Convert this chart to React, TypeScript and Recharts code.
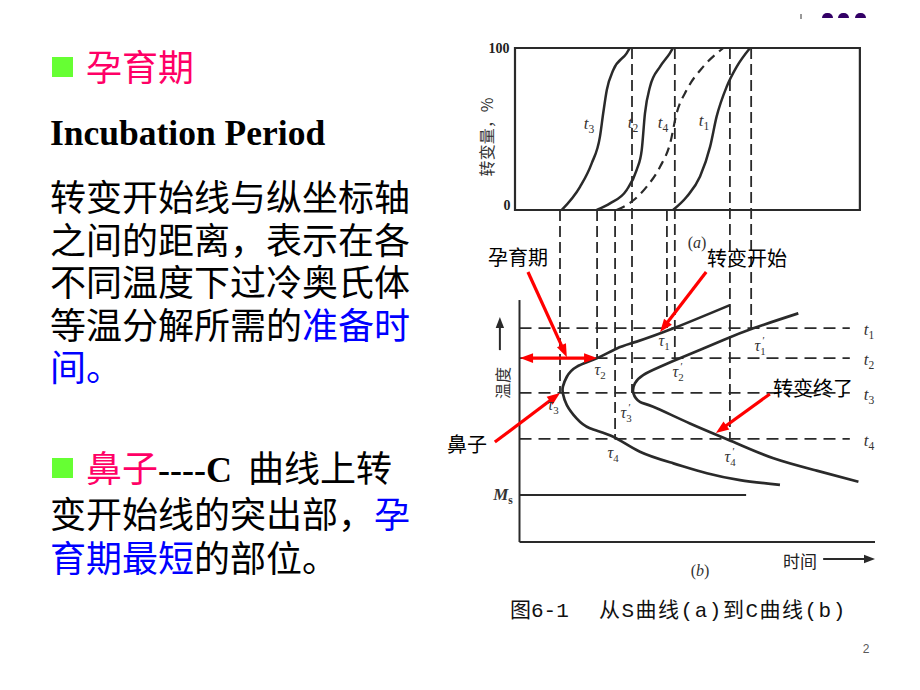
import React from "react";
import { ComposedChart, XAxis, YAxis, Line, ReferenceLine, ReferenceArea } from "recharts";

// schematic axes: time (arbitrary), transformed % in panel (a), temperature (arbitrary) in panel (b)
const TIME_DOMAIN = [-20, 105];
const FRAC_DOMAIN = [-228.4, 111.1];
const TEMP_DOMAIN = [-15.7, 211.6];

// S curves, [time, % transformed]
const S_T3 = [[13.0, 0], [18.1, 14.4], [21.3, 28.8], [23.6, 45.3], [24.5, 59.7], [25.5, 74.1], [27.3, 86.4], [31.0, 96.7], [31.9, 100]];
const S_T2 = [[22.7, 0], [26.4, 4.1], [31.0, 12.3], [33.8, 24.7], [35.2, 37.0], [36.1, 59.7], [37.5, 76.1], [40.3, 88.5], [43.0, 96.7], [43.9, 100]];
const S_T4 = [[28.2, 0], [32.4, 5.1], [36.6, 14.4], [40.3, 26.7], [43.1, 41.2], [44.9, 59.7], [47.7, 74.1], [52.3, 88.5], [57.9, 100]];
const S_T1 = [[43.9, 0], [47.7, 8.2], [51.4, 20.6], [54.2, 39.1], [56.0, 57.6], [58.8, 76.1], [61.6, 88.5], [65.3, 100]];

// C curves, [time, temperature]
const C_START = [[59.7, 97.9], [44.0, 88.3], [33.8, 82.8], [28.3, 80.0], [22.7, 75.9], [17.1, 72.4], [14.4, 68.3], [13.3, 64.2], [13.3, 61.4], [14.4, 56.6], [17.1, 51.1], [20.8, 47.0], [27.3, 43.5], [34.7, 37.3], [44.0, 32.5], [53.3, 28.4], [62.5, 25.6], [73.6, 23.6]];
const C_END = [[78.7, 94.5], [66.2, 88.3], [57.9, 83.5], [52.3, 80.0], [46.8, 76.6], [40.3, 72.4], [35.6, 69.0], [33.3, 65.6], [32.9, 61.4], [34.7, 57.9], [38.4, 55.9], [48.6, 49.0], [60.6, 41.4], [71.8, 34.6], [83.8, 29.5], [95.4, 24.9]];

// isothermal levels t1..t4, start / finish times at each level
const T_LEVELS = [88.4, 76.0, 61.6, 42.6];
const START_TIMES = [42.2, 22.8, 12.5, 27.8];
const END_TIMES = [65.6, 44.4, 32.5, 59.7];
const MS_TEMP = 19.4;

// annotation arrows, [time, temperature]
const RED_ARROWS = [
  { from: [3.6, 111.6], to: [14.4, 76.4] },
  { from: [53.1, 111.6], to: [40.3, 86.8] },
  { from: [70.8, 61.2], to: [55.8, 45.0] },
  { from: [-5.6, 41.3], to: [12.5, 61.6] },
  { from: [1.4, 76.0], to: [22.8, 76.0], both: true },
];
const AXIS_ARROWS = [
  { from: [-4.2, 79.3], to: [-4.2, 93.0] },
  { from: [85.6, -7.0], to: [100, -7.0] },
];

// slide text, one entry per line
const PARA_1 = ["转变开始线与纵坐标轴", "之间的距离，表示在各", "不同温度下过冷奥氏体"];

const INK = "#2a2a2a";
const CJK = '"Noto Sans CJK SC", sans-serif';
// Latin face first so the line box keeps compact metrics, CJK glyphs fall back to Noto
const BODY = '"Liberation Sans", "Noto Sans CJK SC", sans-serif';
const SERIF = '"Liberation Serif", "Noto Sans CJK SC", serif';

const pts = (arr: number[][]) => arr.map(([t, v]) => ({ t, v }));
const fracToTemp = (f: number) =>
  TEMP_DOMAIN[0] + ((f - FRAC_DOMAIN[0]) * (TEMP_DOMAIN[1] - TEMP_DOMAIN[0])) / (FRAC_DOMAIN[1] - FRAC_DOMAIN[0]);

const arrowShape = (color: string, w: number, head: number, both = false) => (p: any) => {
  const { x1, y1, x2, y2 } = p;
  const a = Math.atan2(y2 - y1, x2 - x1);
  const tip = (x: number, y: number, ang: number) => {
    const bx = x - head * Math.cos(ang);
    const by = y - head * Math.sin(ang);
    const hw = head * 0.38;
    return `${x},${y} ${bx + hw * Math.sin(ang)},${by - hw * Math.cos(ang)} ${bx - hw * Math.sin(ang)},${by + hw * Math.cos(ang)}`;
  };
  const cut = head * 0.7;
  return (
    <g>
      <line
        x1={both ? x1 + cut * Math.cos(a) : x1}
        y1={both ? y1 + cut * Math.sin(a) : y1}
        x2={x2 - cut * Math.cos(a)}
        y2={y2 - cut * Math.sin(a)}
        stroke={color}
        strokeWidth={w}
      />
      <polygon points={tip(x2, y2, a)} fill={color} />
      {both && <polygon points={tip(x1, y1, a + Math.PI)} fill={color} />}
    </g>
  );
};

const Txt = ({ x, y, size = 16, rot = 0, style = {}, children }: any) => (
  <div
    style={{
      position: "absolute",
      left: x,
      top: y,
      transform: `translate(-50%, -50%)${rot ? ` rotate(${rot}deg)` : ""}`,
      fontSize: size,
      lineHeight: 1,
      whiteSpace: "nowrap",
      fontFamily: CJK,
      color: "#000",
      ...style,
    }}
  >
    {children}
  </div>
);

const Row = ({ x, y, h, style = {}, children }: any) => (
  <div
    style={{
      position: "absolute",
      left: x,
      top: y,
      lineHeight: `${h}px`,
      fontSize: 36,
      fontFamily: BODY,
      whiteSpace: "nowrap",
      color: "#000",
      ...style,
    }}
  >
    {children}
  </div>
);

const Sym = ({ s, n, prime }: any) => (
  <span style={{ fontFamily: SERIF, fontStyle: "italic", color: "#333" }}>
    {s}
    <span style={{ display: "inline-block", position: "relative", fontSize: "0.68em", verticalAlign: "-0.35em", fontStyle: "normal" }}>
      {prime && <span style={{ position: "absolute", left: "0.15em", top: "-0.95em", fontStyle: "italic" }}>′</span>}
      {n}
    </span>
  </span>
);

const blue = { color: "#0000FF" };
const pink = { color: "#FF0066" };

function Figure() {
  return (
    <ComposedChart width={920} height={690} margin={{ top: 30, right: 27, bottom: 110, left: 443 }}>
      <XAxis type="number" dataKey="t" domain={TIME_DOMAIN} hide allowDataOverflow />
      <YAxis yAxisId="a" type="number" domain={FRAC_DOMAIN} hide allowDataOverflow />
      <YAxis yAxisId="b" type="number" domain={TEMP_DOMAIN} hide allowDataOverflow />

      {/* panel (a) frame */}
      <ReferenceArea yAxisId="a" x1={0} x2={95.8} y1={0} y2={100} fill="none" stroke={INK} strokeWidth={2.2} />

      {/* panel (b) axes and Ms */}
      <ReferenceLine yAxisId="b" segment={[{ x: 1.25, y: 100 }, { x: 1.25, y: 0 }]} stroke={INK} strokeWidth={2} />
      <ReferenceLine yAxisId="b" segment={[{ x: 1.25, y: 0 }, { x: 100, y: 0 }]} stroke={INK} strokeWidth={2} />
      <ReferenceLine yAxisId="b" segment={[{ x: 1.25, y: MS_TEMP }, { x: 64.2, y: MS_TEMP }]} stroke={INK} strokeWidth={2} />

      {/* isotherms */}
      {T_LEVELS.map((T, i) => (
        <ReferenceLine key={`h${i}`} yAxisId="b" segment={[{ x: 1.25, y: T }, { x: 93, y: T }]} stroke={INK} strokeWidth={1.8} strokeDasharray="12 7" />
      ))}

      {/* projections from the S curves to the C curves */}
      {T_LEVELS.map((T, i) => (
        <ReferenceLine key={`s${i}`} yAxisId="b" segment={[{ x: START_TIMES[i], y: fracToTemp(0) }, { x: START_TIMES[i], y: T }]} stroke={INK} strokeWidth={1.8} strokeDasharray="11 5" />
      ))}
      {T_LEVELS.map((T, i) => (
        <ReferenceLine key={`e${i}`} yAxisId="b" segment={[{ x: END_TIMES[i], y: fracToTemp(100) }, { x: END_TIMES[i], y: T }]} stroke={INK} strokeWidth={1.8} strokeDasharray="11 5" />
      ))}

      <Line yAxisId="a" data={pts(S_T3)} dataKey="v" type="monotone" stroke={INK} strokeWidth={2.5} dot={false} activeDot={false} isAnimationActive={false} />
      <Line yAxisId="a" data={pts(S_T2)} dataKey="v" type="monotone" stroke={INK} strokeWidth={2.5} dot={false} activeDot={false} isAnimationActive={false} />
      <Line yAxisId="a" data={pts(S_T4)} dataKey="v" type="monotone" stroke={INK} strokeWidth={2.2} strokeDasharray="9 6" dot={false} activeDot={false} isAnimationActive={false} />
      <Line yAxisId="a" data={pts(S_T1)} dataKey="v" type="monotone" stroke={INK} strokeWidth={2.5} dot={false} activeDot={false} isAnimationActive={false} />

      <Line yAxisId="b" data={pts(C_START)} dataKey="v" type="natural" stroke={INK} strokeWidth={2.7} dot={false} activeDot={false} isAnimationActive={false} />
      <Line yAxisId="b" data={pts(C_END)} dataKey="v" type="natural" stroke={INK} strokeWidth={2.7} dot={false} activeDot={false} isAnimationActive={false} />

      {AXIS_ARROWS.map((a, i) => (
        <ReferenceLine key={`ax${i}`} yAxisId="b" segment={[{ x: a.from[0], y: a.from[1] }, { x: a.to[0], y: a.to[1] }]} shape={arrowShape(INK, 2, 11)} />
      ))}
      {RED_ARROWS.map((a, i) => (
        <ReferenceLine key={`r${i}`} yAxisId="b" segment={[{ x: a.from[0], y: a.from[1] }, { x: a.to[0], y: a.to[1] }]} shape={arrowShape("#FF0000", 3.2, 13, !!a.both)} />
      ))}
    </ComposedChart>
  );
}

export default function App() {
  return (
    <div style={{ position: "absolute", left: 0, top: 0, width: 920, height: 690, background: "#fff", overflow: "hidden" }}>
      {/* slide template marks */}
      <div style={{ position: "absolute", left: 800, top: 14, width: 2, height: 5, background: "#999" }} />
      {[822, 838, 855].map((x) => (
        <div key={x} style={{ position: "absolute", left: x, top: 13, width: 11, height: 5, borderRadius: "6px 6px 0 0", background: "#330066" }} />
      ))}

      {/* left column */}
      <div style={{ position: "absolute", left: 52, top: 57, width: 21, height: 20, background: "#66FF33" }} />
      <Row x={86} y={48} h={42.5} style={pink}>孕育期</Row>
      <Row x={50} y={112} h={42.5} style={{ fontFamily: SERIF, fontWeight: "bold", fontSize: 35.5 }}>Incubation Period</Row>
      {PARA_1.map((line, i) => (
        <Row key={i} x={50} y={178 + i * 42.5} h={42.5}>{line}</Row>
      ))}
      <Row x={50} y={178 + 3 * 42.5} h={42.5}>
        等温分解所需的<span style={blue}>准备时</span>
      </Row>
      <Row x={50} y={178 + 4 * 42.5} h={42.5} style={blue}>间。</Row>

      <div style={{ position: "absolute", left: 52, top: 458, width: 21, height: 20, background: "#66FF33" }} />
      <Row x={86} y={447} h={45}>
        <span style={pink}>鼻子</span>
        <span style={{ fontFamily: SERIF, fontWeight: "bold" }}>----C</span>
        <span style={{ marginLeft: 16 }}>曲线上转</span>
      </Row>
      <Row x={50} y={493} h={45}>
        变开始线的突出部，<span style={blue}>孕</span>
      </Row>
      <Row x={50} y={537} h={45}>
        <span style={blue}>育期最短</span>的部位。
      </Row>

      <div style={{ position: "absolute", left: 0, top: 0 }}>
        <Figure />
      </div>

      {/* figure text */}
      <Txt x={499} y={49} size={14} style={{ fontFamily: SERIF, fontWeight: "bold", color: "#222" }}>100</Txt>
      <Txt x={507} y={206} size={14} style={{ fontFamily: SERIF, fontWeight: "bold", color: "#222" }}>0</Txt>
      <Txt x={486} y={137} size={16} rot={-90} style={{ color: "#333" }}>转变量，%</Txt>
      <Txt x={589} y={124} size={17}><Sym s="t" n="3" /></Txt>
      <Txt x={633} y={123} size={17}><Sym s="t" n="2" /></Txt>
      <Txt x={663} y={123} size={17}><Sym s="t" n="4" /></Txt>
      <Txt x={704} y={121} size={17}><Sym s="t" n="1" /></Txt>
      <Txt x={697} y={243} size={16} style={{ fontFamily: SERIF, color: "#333" }}>(<i>a</i>)</Txt>

      <Txt x={502} y={383} size={16} rot={-90} style={{ color: "#333" }}>温度</Txt>
      <Txt x={869} y={330} size={17}><Sym s="t" n="1" /></Txt>
      <Txt x={869} y={360} size={17}><Sym s="t" n="2" /></Txt>
      <Txt x={869} y={395} size={17}><Sym s="t" n="3" /></Txt>
      <Txt x={869} y={441} size={17}><Sym s="t" n="4" /></Txt>
      <Txt x={664} y={341} size={16}><Sym s="τ" n="1" /></Txt>
      <Txt x={760} y={346} size={16}><Sym s="τ" n="1" prime /></Txt>
      <Txt x={600} y={370} size={16}><Sym s="τ" n="2" /></Txt>
      <Txt x={678} y={372} size={16}><Sym s="τ" n="2" prime /></Txt>
      <Txt x={553} y={405} size={16}><Sym s="τ" n="3" /></Txt>
      <Txt x={626} y={413} size={16}><Sym s="τ" n="3" prime /></Txt>
      <Txt x={613} y={453} size={16}><Sym s="τ" n="4" /></Txt>
      <Txt x={730} y={457} size={16}><Sym s="τ" n="4" prime /></Txt>
      <Txt x={503} y={495} size={17} style={{ fontWeight: "bold" }}><Sym s="M" n="s" /></Txt>
      <Txt x={800} y={560} size={17} style={{ color: "#222" }}>时间</Txt>
      <Txt x={700} y={571} size={16} style={{ fontFamily: SERIF, color: "#333" }}>(<i>b</i>)</Txt>

      <Txt x={518} y={257} size={20}>孕育期</Txt>
      <Txt x={747} y={258} size={20}>转变开始</Txt>
      <Txt x={813} y={388} size={20}>转变终了</Txt>
      <Txt x={467} y={444} size={20}>鼻子</Txt>

      <div style={{ position: "absolute", left: 510, top: 600, fontSize: 21, lineHeight: "24px", fontFamily: '"Liberation Mono", "Noto Sans CJK SC", monospace', color: "#111", whiteSpace: "nowrap" }}>图6-1</div>
      <div style={{ position: "absolute", left: 599, top: 600, fontSize: 21, lineHeight: "24px", fontFamily: '"Liberation Mono", "Noto Sans CJK SC", monospace', letterSpacing: 1.5, color: "#111", whiteSpace: "nowrap" }}>从S曲线(a)到C曲线(b)</div>
      <Txt x={866} y={649} size={12} style={{ fontFamily: '"Liberation Sans", sans-serif', color: "#595959" }}>2</Txt>
    </div>
  );
}
